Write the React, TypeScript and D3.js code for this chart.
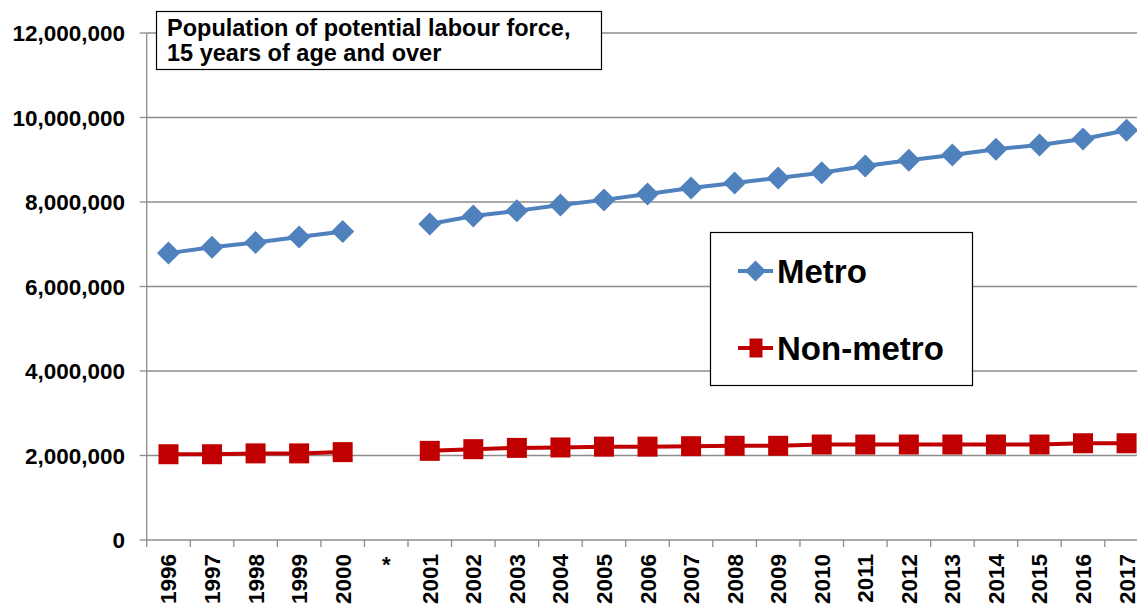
import React from 'react';
import * as d3 from 'd3';

// categories on the x axis ('*' marks the break between the two series runs)
const years = ['1996', '1997', '1998', '1999', '2000', '*', '2001', '2002', '2003', '2004', '2005', '2006',
  '2007', '2008', '2009', '2010', '2011', '2012', '2013', '2014', '2015', '2016', '2017'];

const metro = [6790000, 6930000, 7040000, 7170000, 7300000, null, 7480000, 7670000, 7790000, 7930000,
  8050000, 8190000, 8330000, 8450000, 8570000, 8690000, 8850000, 8990000, 9110000, 9250000, 9350000,
  9490000, 9700000];

const nonMetro = [2030000, 2030000, 2050000, 2050000, 2080000, null, 2110000, 2150000, 2180000, 2190000,
  2210000, 2210000, 2220000, 2230000, 2230000, 2260000, 2260000, 2260000, 2260000, 2260000, 2260000,
  2290000, 2290000];

const yTicks = [0, 2000000, 4000000, 6000000, 8000000, 10000000, 12000000];

const titleLines = ['Population of potential labour force,', '15 years of age and over'];

const W = 1137;
const H = 609;
const FONT = 'Liberation Sans, Arial, sans-serif';
const BLUE = '#4F81BD';
const RED = '#C00000';
const GRID = '#8c8c8c';

export default function App() {
  const left = 146.7;
  const bandW = 43.55;
  const x = d3.scaleBand<string>().domain(years).range([left, left + bandW * years.length]).padding(0);
  const y = d3.scaleLinear().domain([0, 12000000]).range([540, 33]);
  const cx = (c: string) => (x(c) as number) + x.bandwidth() / 2;

  const line = d3.line<number | null>()
    .defined(d => d != null)
    .x((_, i) => cx(years[i]))
    .y(d => y(d as number));

  const diamond = (px: number, py: number, r: number) =>
    `M${px},${py - r}L${px + r},${py}L${px},${py + r}L${px - r},${py}Z`;

  return (
    <svg width={W} height={H} style={{ position: 'absolute', left: 0, top: 0, display: 'block', background: '#fff' }}
      fontFamily={FONT}>
      {/* gridlines */}
      {yTicks.slice(1).map(t => (
        <line key={t} x1={left} x2={W} y1={y(t)} y2={y(t)} stroke={GRID} strokeWidth={1.3} />
      ))}
      {/* y axis */}
      <line x1={left} x2={left} y1={y(12000000)} y2={y(0)} stroke={GRID} strokeWidth={1.3} />
      {yTicks.map(t => (
        <g key={t}>
          <line x1={left - 7} x2={left} y1={y(t)} y2={y(t)} stroke={GRID} strokeWidth={1.3} />
          <text x={125} y={y(t)} dy="0.36em" textAnchor="end" fontSize={22.5} fontWeight="bold" fill="#000">
            {d3.format(',')(t)}
          </text>
        </g>
      ))}
      {/* x axis */}
      <line x1={left} x2={W} y1={y(0)} y2={y(0)} stroke={GRID} strokeWidth={1.3} />
      {years.map((c, i) => (
        <line key={'t' + c} x1={left + i * bandW} x2={left + i * bandW} y1={y(0)} y2={y(0) + 7}
          stroke={GRID} strokeWidth={1.3} />
      ))}
      {years.map(c => (
        c === '*' ? (
          <text key={c} x={cx(c)} y={572} textAnchor="middle" fontSize={22} fontWeight="bold">*</text>
        ) : (
          <text key={c} transform={`translate(${cx(c) + 8},${554}) rotate(-90)`} textAnchor="end"
            fontSize={22.5} fontWeight="bold">{c}</text>
        )
      ))}

      {/* series */}
      <path d={line(metro) || ''} fill="none" stroke={BLUE} strokeWidth={4} />
      <path d={line(nonMetro) || ''} fill="none" stroke={RED} strokeWidth={4} />
      {metro.map((v, i) => v == null ? null : (
        <path key={'m' + i} d={diamond(cx(years[i]), y(v), 11.5)} fill={BLUE} />
      ))}
      {nonMetro.map((v, i) => v == null ? null : (
        <rect key={'n' + i} x={cx(years[i]) - 10} y={y(v) - 10} width={20} height={20} fill={RED} />
      ))}

      {/* title box */}
      <rect x={156.5} y={11.5} width={445} height={58} fill="#fff" stroke="#000" strokeWidth={1.2} />
      {titleLines.map((t, i) => (
        <text key={t} x={167} y={36 + i * 25} fontSize={23.5} fontWeight="bold">{t}</text>
      ))}

      {/* legend */}
      <rect x={710.5} y={232.5} width={262} height={153} fill="#fff" stroke="#000" strokeWidth={1.2} />
      <line x1={738} x2={773} y1={271} y2={271} stroke={BLUE} strokeWidth={4} />
      <path d={diamond(755.5, 271, 10.5)} fill={BLUE} />
      <text x={777} y={271} dy="0.36em" fontSize={33} fontWeight="bold">Metro</text>
      <line x1={738} x2={773} y1={348} y2={348} stroke={RED} strokeWidth={4} />
      <rect x={749.5} y={338.5} width={13} height={19} fill={RED} />
      <text x={777} y={348} dy="0.36em" fontSize={33} fontWeight="bold">Non-metro</text>
    </svg>
  );
}
